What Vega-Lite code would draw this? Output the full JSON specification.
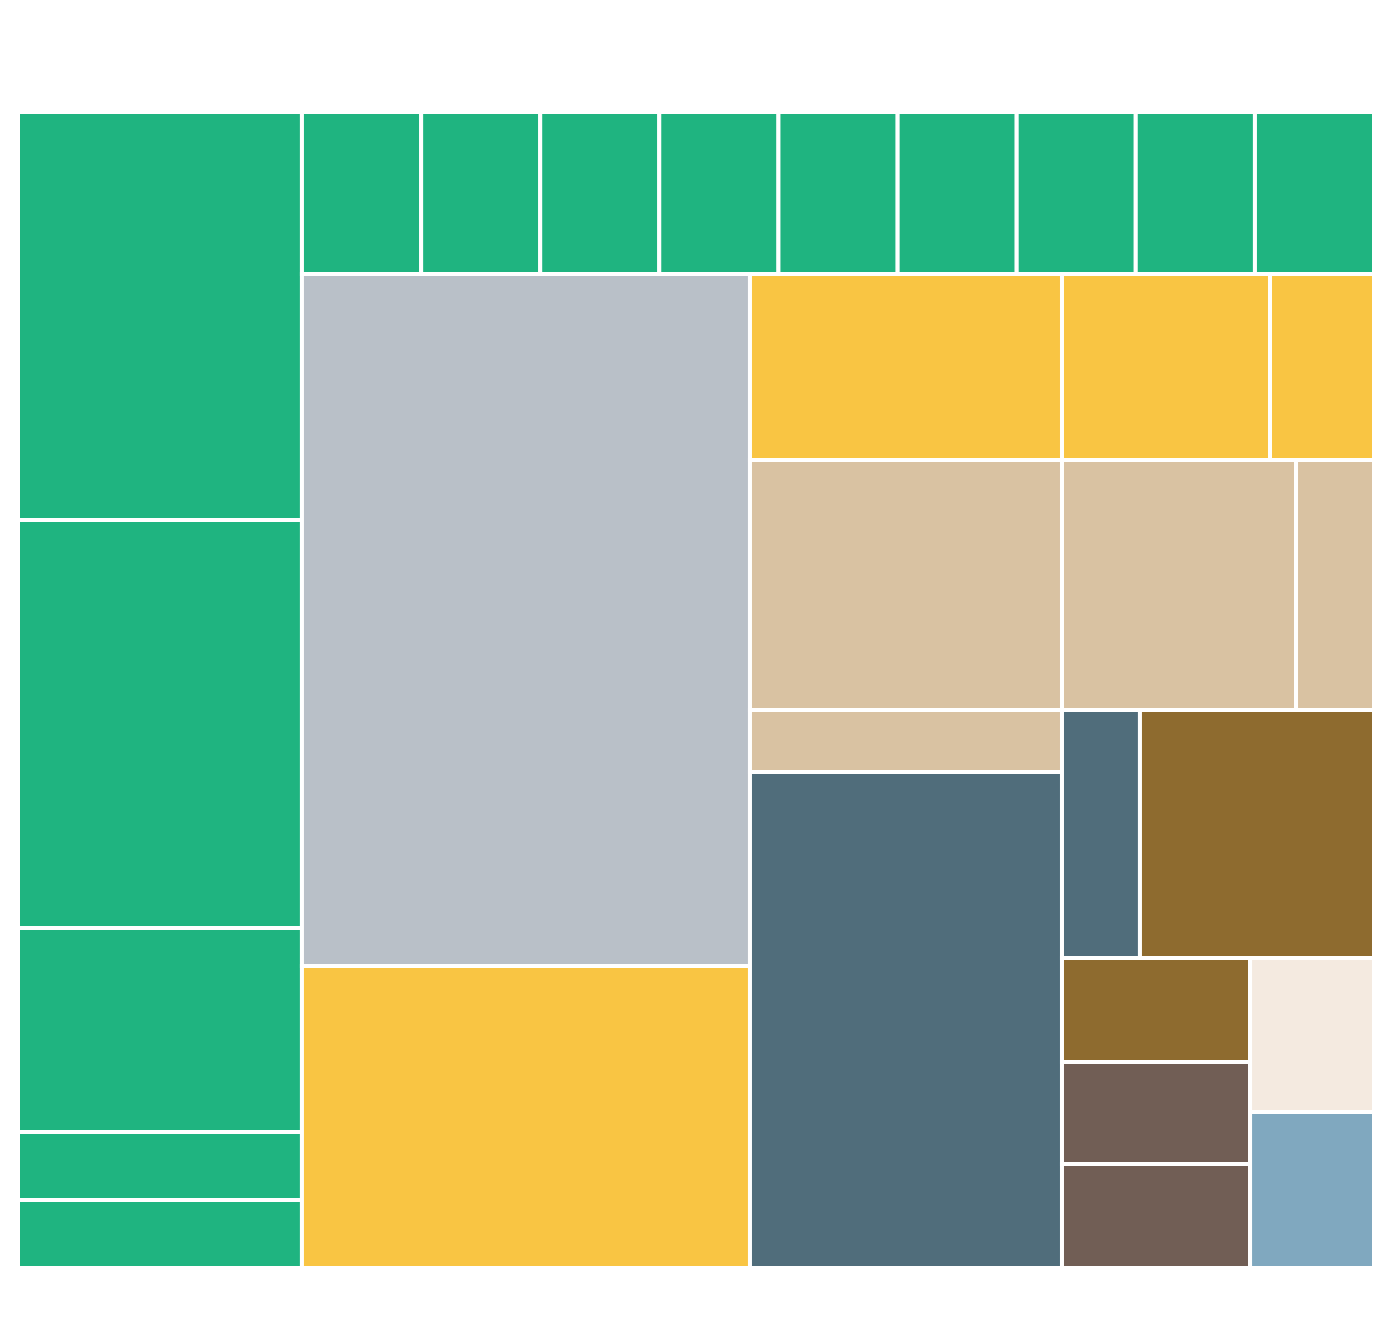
{
  "$schema": "https://vega.github.io/schema/vega-lite/v6.json",
  "width": 1356,
  "height": 1156,
  "autosize": {"type": "none"},
  "padding": {"left": 18, "top": 112, "right": 26, "bottom": 70},
  "background": "white",
  "config": {"view": {"stroke": null}},
  "data": {
    "values": [
      {"group": "A", "item": "A1", "x0": 0, "x1": 20.94, "y0": 0, "y1": 35.29},
      {"group": "A", "item": "A2", "x0": 0, "x1": 20.94, "y0": 35.29, "y1": 70.59},
      {"group": "A", "item": "A3", "x0": 0, "x1": 20.94, "y0": 70.59, "y1": 88.24},
      {"group": "A", "item": "A4", "x0": 0, "x1": 20.94, "y0": 88.24, "y1": 94.12},
      {"group": "A", "item": "A5", "x0": 0, "x1": 20.94, "y0": 94.12, "y1": 100},
      {"group": "A", "item": "A6", "x0": 20.94, "x1": 29.73, "y0": 0, "y1": 14.01},
      {"group": "A", "item": "A7", "x0": 29.73, "x1": 38.51, "y0": 0, "y1": 14.01},
      {"group": "A", "item": "A8", "x0": 38.51, "x1": 47.29, "y0": 0, "y1": 14.01},
      {"group": "A", "item": "A9", "x0": 47.29, "x1": 56.08, "y0": 0, "y1": 14.01},
      {"group": "A", "item": "A10", "x0": 56.08, "x1": 64.87, "y0": 0, "y1": 14.01},
      {"group": "A", "item": "A11", "x0": 64.87, "x1": 73.65, "y0": 0, "y1": 14.01},
      {"group": "A", "item": "A12", "x0": 73.65, "x1": 82.43, "y0": 0, "y1": 14.01},
      {"group": "A", "item": "A13", "x0": 82.43, "x1": 91.22, "y0": 0, "y1": 14.01},
      {"group": "A", "item": "A14", "x0": 91.22, "x1": 100, "y0": 0, "y1": 14.01},
      {"group": "B", "item": "B1", "x0": 20.94, "x1": 53.98, "y0": 14.01, "y1": 73.88},
      {"group": "C", "item": "C1", "x0": 20.94, "x1": 53.98, "y0": 73.88, "y1": 100},
      {"group": "C", "item": "C2", "x0": 53.98, "x1": 76.99, "y0": 14.01, "y1": 30.10},
      {"group": "C", "item": "C3", "x0": 76.99, "x1": 92.33, "y0": 14.01, "y1": 30.10},
      {"group": "C", "item": "C4", "x0": 92.33, "x1": 100, "y0": 14.01, "y1": 30.10},
      {"group": "D", "item": "D1", "x0": 53.98, "x1": 76.99, "y0": 30.10, "y1": 51.73},
      {"group": "D", "item": "D2", "x0": 76.99, "x1": 94.25, "y0": 30.10, "y1": 51.73},
      {"group": "D", "item": "D3", "x0": 94.25, "x1": 100, "y0": 30.10, "y1": 51.73},
      {"group": "D", "item": "D4", "x0": 53.98, "x1": 76.99, "y0": 51.73, "y1": 57.09},
      {"group": "E", "item": "E1", "x0": 53.98, "x1": 76.99, "y0": 57.09, "y1": 100},
      {"group": "E", "item": "E2", "x0": 76.99, "x1": 82.74, "y0": 51.73, "y1": 73.18},
      {"group": "F", "item": "F1", "x0": 82.74, "x1": 100, "y0": 51.73, "y1": 73.18},
      {"group": "F", "item": "F2", "x0": 76.99, "x1": 90.86, "y0": 73.18, "y1": 82.18},
      {"group": "G", "item": "G1", "x0": 76.99, "x1": 90.86, "y0": 82.18, "y1": 91.00},
      {"group": "G", "item": "G2", "x0": 76.99, "x1": 90.86, "y0": 91.00, "y1": 100},
      {"group": "H", "item": "H1", "x0": 90.86, "x1": 100, "y0": 73.18, "y1": 86.51},
      {"group": "I", "item": "I1", "x0": 90.86, "x1": 100, "y0": 86.51, "y1": 100}
    ]
  },
  "mark": {"type": "rect", "stroke": "white", "strokeWidth": 4, "opacity": 1},
  "encoding": {
    "x": {"field": "x0", "type": "quantitative", "scale": {"domain": [0, 100], "nice": false, "zero": false}, "axis": null},
    "x2": {"field": "x1"},
    "y": {"field": "y0", "type": "quantitative", "scale": {"domain": [0, 100], "nice": false, "zero": false, "reverse": true}, "axis": null},
    "y2": {"field": "y1"},
    "color": {
      "field": "group",
      "type": "nominal",
      "scale": {
        "domain": ["A", "B", "C", "D", "E", "F", "G", "H", "I"],
        "range": ["#1fb480", "#b9c0c8", "#f9c543", "#d9c2a2", "#506d7b", "#8e6b2f", "#715e55", "#f4eae0", "#80a8bf"]
      },
      "legend": null
    }
  }
}
